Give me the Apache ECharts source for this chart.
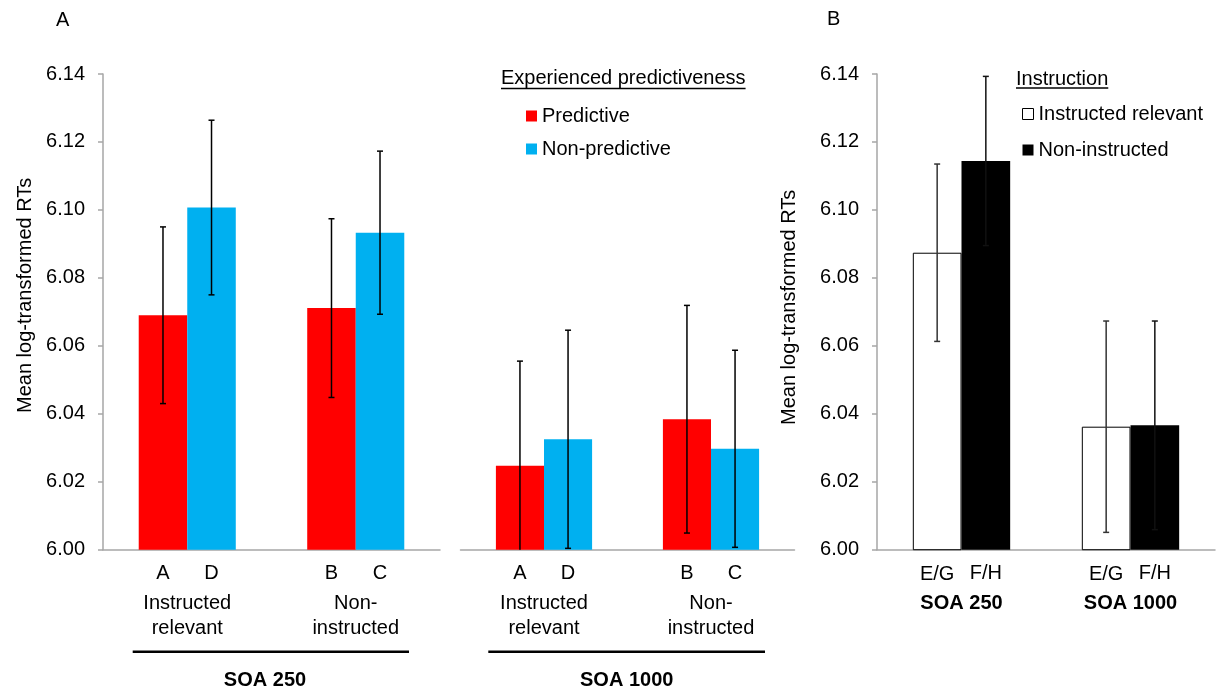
<!DOCTYPE html>
<html>
<head>
<meta charset="utf-8">
<script src="https://cdn.jsdelivr.net/npm/echarts@6/dist/echarts.min.js"></script>
<style>html,body{margin:0;padding:0;background:#fff}#c{width:1220px;height:692px}</style>
</head>
<body>
<div id="c"></div>
<script>
// ---------- data ----------
const catsA = ['Instructed\nrelevant', 'Non-\ninstructed'];
const lettersPredictive = ['A', 'B'];
const lettersNonPredictive = ['D', 'C'];
const soa250Predictive = [6.0690, 6.0711];
const soa250PredictiveErr = [0.0260, 0.0263];
const soa250NonPredictive = [6.1007, 6.0933];
const soa250NonPredictiveErr = [0.0257, 0.0240];
const soa1000Predictive = [6.0247, 6.0384];
const soa1000PredictiveErr = [0.0308, 0.0335];
const soa1000NonPredictive = [6.0325, 6.0297];
const soa1000NonPredictiveErr = [0.0321, 0.0290];

const catsB = ['SOA 250', 'SOA 1000'];
const lettersInstructed = ['E/G', 'E/G'];
const lettersNonInstructed = ['F/H', 'F/H'];
const instructedRelevant = [6.0874, 6.0362];
const instructedRelevantErr = [0.0261, 0.0311];
const nonInstructed = [6.1144, 6.0366];
const nonInstructedErr = [0.0249, 0.0307];

const yTicks = {min: 6.00, max: 6.14, interval: 0.02};

// ---------- styling ----------
const FONT = 'Liberation Sans, Arial, sans-serif';
const AXIS_GRAY = '#a6a6a6';
const BAR_FRAC = 0.288;
const RED = '#ff0000', BLUE = '#00b0f0';

function textWidth(t, size) {
  const ctx = document.createElement('canvas').getContext('2d');
  ctx.font = size + 'px ' + FONT;
  return ctx.measureText(t).width;
}

function errRender(side, color) {
  return function (params, api) {
    const cat = api.value(0), mean = api.value(1), err = api.value(2);
    const band = api.size([1, 0])[0];
    const off = side * band * BAR_FRAC / 2;
    let lo = mean - err;
    const clipped = lo < yTicks.min;
    if (clipped) lo = yTicks.min;
    const pTop = api.coord([cat, mean + err]);
    const pBot = api.coord([cat, lo]);
    const x = pTop[0] + off;
    const st = {stroke: color, lineWidth: 1.5};
    const ch = [
      {type: 'line', shape: {x1: x, y1: pTop[1], x2: x, y2: pBot[1]}, style: st},
      {type: 'line', shape: {x1: x - 3, y1: pTop[1], x2: x + 3, y2: pTop[1]}, style: st}
    ];
    if (!clipped) ch.push({type: 'line', shape: {x1: x - 3, y1: pBot[1], x2: x + 3, y2: pBot[1]}, style: st});
    return {type: 'group', children: ch};
  };
}

function errSeries(axisIdx, means, errs, side, color) {
  return {
    type: 'custom', xAxisIndex: axisIdx, yAxisIndex: axisIdx, z: 10,
    renderItem: errRender(side, color),
    encode: {x: 0, y: 1},
    data: means.map((v, i) => [i, v, errs[i]]),
    silent: true, clip: false
  };
}

function barSeries(name, axisIdx, values, letters, itemStyle) {
  return {
    type: 'bar', name: name, xAxisIndex: axisIdx, yAxisIndex: axisIdx,
    barWidth: (BAR_FRAC * 100) + '%', barGap: '0%',
    data: values, itemStyle: itemStyle,
    label: {
      show: true, position: 'bottom', distance: 14,
      formatter: p => letters[p.dataIndex],
      color: '#000', fontSize: 20, fontFamily: FONT
    },
    animation: false
  };
}

function yAxis(gridIndex, show, namePad, nameGap) {
  return {
    type: 'value', gridIndex: gridIndex,
    min: yTicks.min, max: yTicks.max, interval: yTicks.interval,
    splitLine: {show: false},
    axisLine: {show: show, lineStyle: {color: AXIS_GRAY, width: 1.5}},
    axisTick: {show: show, length: 5, lineStyle: {color: AXIS_GRAY, width: 1.5}},
    axisLabel: {show: show, margin: 18, fontSize: 20, color: '#000', fontFamily: FONT,
      formatter: v => v.toFixed(2)},
    name: show ? 'Mean log-transformed RTs' : '',
    nameLocation: 'middle', nameGap: nameGap,
    nameTextStyle: {fontSize: 20, color: '#000', fontFamily: FONT, padding: [0, 0, 0, namePad]}
  };
}

function xAxis(gridIndex, cats, bold, margin) {
  return {
    type: 'category', gridIndex: gridIndex, data: cats,
    axisLine: {show: true, lineStyle: {color: AXIS_GRAY, width: 1.5}},
    axisTick: {show: false},
    axisLabel: {margin: margin, fontSize: 20, lineHeight: 25, color: '#000', fontFamily: FONT,
      fontWeight: bold ? 'bold' : 'normal', interval: 0}
  };
}

const titleA = 'Experienced predictiveness';
const titleB = 'Instruction';
const wA = textWidth(titleA, 20), wB = textWidth(titleB, 20);

const chart = echarts.init(document.getElementById('c'), null, {renderer: 'canvas'});
chart.setOption({
  animation: false,
  backgroundColor: '#fff',
  textStyle: {fontFamily: FONT},
  grid: [
    {left: 103, top: 74, width: 337, height: 475.7},
    {left: 460.5, top: 74, width: 334, height: 475.7},
    {left: 877, top: 74, width: 338, height: 475.7}
  ],
  xAxis: [
    xAxis(0, catsA, false, 41),
    xAxis(1, catsA, false, 41),
    xAxis(2, catsB, true, 41)
  ],
  yAxis: [
    yAxis(0, true, 33, 68),
    yAxis(1, false, 0, 0),
    yAxis(2, true, 9, 78)
  ],
  legend: [
    {
      data: ['Predictive', 'Non-predictive'], orient: 'vertical',
      left: 521, top: 101, itemWidth: 11, itemHeight: 11, itemGap: 13,
      icon: 'rect', selectedMode: false,
      textStyle: {fontSize: 20, color: '#000', fontFamily: FONT, lineHeight: 20}
    },
    {
      data: ['Instructed relevant', 'Non-instructed'], orient: 'vertical',
      left: 1017, top: 99, itemWidth: 11, itemHeight: 11, itemGap: 16,
      icon: 'rect', selectedMode: false,
      itemStyle: {borderWidth: 1},
      textStyle: {fontSize: 20, color: '#000', fontFamily: FONT, lineHeight: 20}
    }
  ],
  graphic: [
    {type: 'text', left: 56, top: 10, style: {text: 'A', fontSize: 20, fontFamily: FONT, fill: '#000'}},
    {type: 'text', left: 827, top: 9, style: {text: 'B', fontSize: 20, fontFamily: FONT, fill: '#000'}},
    {type: 'text', left: 501, top: 68, style: {text: titleA, fontSize: 20, fontFamily: FONT, fill: '#000'}},
    {type: 'line', shape: {x1: 501, y1: 88.5, x2: 501 + wA, y2: 88.5}, style: {stroke: '#000', lineWidth: 1.5}},
    {type: 'text', left: 1016, top: 69, style: {text: titleB, fontSize: 20, fontFamily: FONT, fill: '#000'}},
    {type: 'line', shape: {x1: 1016, y1: 88, x2: 1016 + wB, y2: 88}, style: {stroke: '#000', lineWidth: 1.5}},
    {type: 'line', shape: {x1: 132.7, y1: 651.7, x2: 409, y2: 651.7}, style: {stroke: '#000', lineWidth: 2.5}},
    {type: 'line', shape: {x1: 488.3, y1: 651.7, x2: 765, y2: 651.7}, style: {stroke: '#000', lineWidth: 2.5}},
    {type: 'text', x: 265, y: 680, style: {text: 'SOA 250', fontSize: 20, fontWeight: 'bold', fontFamily: FONT, fill: '#000', align: 'center', verticalAlign: 'middle'}},
    {type: 'text', x: 626.7, y: 680, style: {text: 'SOA 1000', fontSize: 20, fontWeight: 'bold', fontFamily: FONT, fill: '#000', align: 'center', verticalAlign: 'middle'}}
  ],
  series: [
    barSeries('Predictive', 0, soa250Predictive, lettersPredictive, {color: RED}),
    barSeries('Non-predictive', 0, soa250NonPredictive, lettersNonPredictive, {color: BLUE}),
    barSeries('Predictive', 1, soa1000Predictive, lettersPredictive, {color: RED}),
    barSeries('Non-predictive', 1, soa1000NonPredictive, lettersNonPredictive, {color: BLUE}),
    barSeries('Instructed relevant', 2, instructedRelevant, lettersInstructed, {color: '#fff', borderColor: '#000', borderWidth: 1}),
    barSeries('Non-instructed', 2, nonInstructed, lettersNonInstructed, {color: '#000'}),
    errSeries(0, soa250Predictive, soa250PredictiveErr, -1, '#000'),
    errSeries(0, soa250NonPredictive, soa250NonPredictiveErr, 1, '#000'),
    errSeries(1, soa1000Predictive, soa1000PredictiveErr, -1, '#000'),
    errSeries(1, soa1000NonPredictive, soa1000NonPredictiveErr, 1, '#000'),
    errSeries(2, instructedRelevant, instructedRelevantErr, -1, '#333'),
    errSeries(2, nonInstructed, nonInstructedErr, 1, '#111')
  ]
});
</script>
</body>
</html>
